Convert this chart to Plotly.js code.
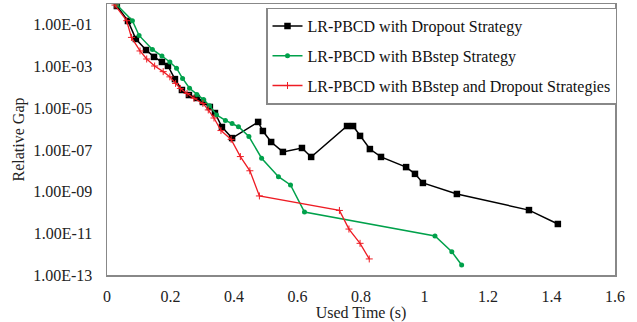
<!DOCTYPE html>
<html><head><meta charset="utf-8">
<script src="https://cdn.plot.ly/plotly-3.0.1.min.js"></script>
<style>html,body{margin:0;padding:0;background:#fff}#chart{width:637px;height:322px}</style>
</head><body><div id="chart"></div>
<script>
const seriesNames = ["LR-PBCD with Dropout Strategy", "LR-PBCD with BBstep Strategy", "LR-PBCD with BBstep and Dropout Strategies"];
const dropoutTime = [0.031,0.066,0.091,0.123,0.148,0.173,0.192,0.214,0.236,0.258,0.283,0.302,0.324,0.340,0.362,0.394,0.476,0.491,0.517,0.554,0.614,0.643,0.756,0.775,0.797,0.828,0.863,0.942,0.970,0.995,1.102,1.329,1.420];
const dropoutGap = [0.80,0.153,0.021,6.2e-3,2.9e-3,1.66e-3,1.07e-3,2.5e-4,7.5e-5,4.3e-5,3.1e-5,2.0e-5,1.15e-5,5.9e-6,1.26e-6,3.7e-7,2.2e-6,8.1e-7,2.4e-7,8e-8,1.24e-7,4.6e-8,1.4e-6,1.4e-6,4.7e-7,1.1e-7,4.6e-8,1.5e-8,7.1e-9,2.6e-9,7.7e-10,1.3e-10,2.8e-11];
const bbTime = [0.0315,0.080,0.101,0.143,0.173,0.198,0.219,0.238,0.260,0.283,0.304,0.323,0.345,0.373,0.394,0.414,0.447,0.487,0.540,0.578,0.622,1.033,1.086,1.117];
const bbGap = [0.89,0.158,0.031,6.6e-3,3.2e-3,1.65e-3,8.3e-4,2.7e-4,9.1e-5,4.6e-5,2.6e-5,1.3e-5,4.8e-6,2.6e-6,1.85e-6,1.3e-6,4.4e-7,4.0e-8,5.2e-9,2.1e-9,1.05e-10,7.4e-12,1.3e-12,3.0e-13];
const bothTime = [0.025,0.062,0.077,0.104,0.125,0.150,0.177,0.198,0.216,0.231,0.252,0.274,0.302,0.319,0.337,0.359,0.391,0.420,0.450,0.480,0.732,0.762,0.797,0.826];
const bothGap = [0.89,0.158,0.025,5.6e-3,2.3e-3,1.06e-3,5.7e-4,3.2e-4,1.55e-4,8.9e-5,5.1e-5,3.0e-5,1.7e-5,8.3e-6,3.4e-6,8.5e-7,3.2e-7,4.8e-8,1.0e-8,6.2e-10,1.25e-10,1.6e-11,3.3e-12,5.9e-13];
const xTickVals = [0,0.2,0.4,0.6,0.8,1,1.2,1.4,1.6];
const xTickText = ["0","0.2","0.4","0.6","0.8","1","1.2","1.4","1.6"];
const yTickVals = [1e-1,1e-3,1e-5,1e-7,1e-9,1e-11,1e-13];
const yTickText = ["1.00E-01","1.00E-03","1.00E-05","1.00E-07","1.00E-09","1.00E-11","1.00E-13"];

const font = "Liberation Serif, Times New Roman, serif";
const traces = [
  {x: dropoutTime, y: dropoutGap, name: seriesNames[0], legendgroup:"a", mode:"lines+markers",
   line:{color:"#000000", width:1.5}, marker:{symbol:"square", size:6.5, color:"#000000"}},
  {x: bbTime, y: bbGap, name: seriesNames[1], legendgroup:"b", mode:"lines+markers",
   line:{color:"#00a14b", width:1.5}, marker:{symbol:"circle", size:5, color:"#00a14b"}},
  {x: bothTime, y: bothGap, name: seriesNames[2], legendgroup:"c", mode:"lines+markers",
   line:{color:"#ee1c24", width:1.3}, marker:{symbol:"cross-thin", size:5, color:"#ee1c24", line:{color:"#ee1c24", width:1}}}
];
const layout = {
  width: 637, height: 322,
  margin: {l:107, r:22, t:4, b:47},
  paper_bgcolor:"#ffffff", plot_bgcolor:"#ffffff",
  font: {family: font, size: 16, color:"#222"},
  showlegend: true,
  legend: {x:0.313, y:0.987, xanchor:"left", yanchor:"top", bgcolor:"#ffffff",
           bordercolor:"#888", borderwidth:1.5, font:{family:font, size:16, color:"#111"},
           tracegroupgap: 6, itemwidth: 30},
  xaxis: {range:[0,1.6], tickvals:xTickVals, ticktext:xTickText, showgrid:false, zeroline:false,
          showline:true, linecolor:"#888", linewidth:1.5, mirror:true,
          ticks:"outside", ticklen:6, tickcolor:"rgba(0,0,0,0)",
          tickfont:{family:font, size:16},
          title:{text:"Used Time (s)", font:{family:font, size:16}, standoff: 14}},
  yaxis: {type:"log", range:[-13,0], tickvals:yTickVals, ticktext:yTickText, showgrid:false, zeroline:false,
          showline:true, linecolor:"#888", linewidth:1.5, mirror:true,
          ticks:"outside", ticklen:10, tickcolor:"rgba(0,0,0,0)",
          tickfont:{family:font, size:16},
          title:{text:"Relative Gap\u00a0\u00a0\u00a0\u00a0\u00a0", font:{family:font, size:16}, standoff: 4}}
};
Plotly.newPlot("chart", traces, layout, {displayModeBar:false, staticPlot:true});
</script></body></html>
